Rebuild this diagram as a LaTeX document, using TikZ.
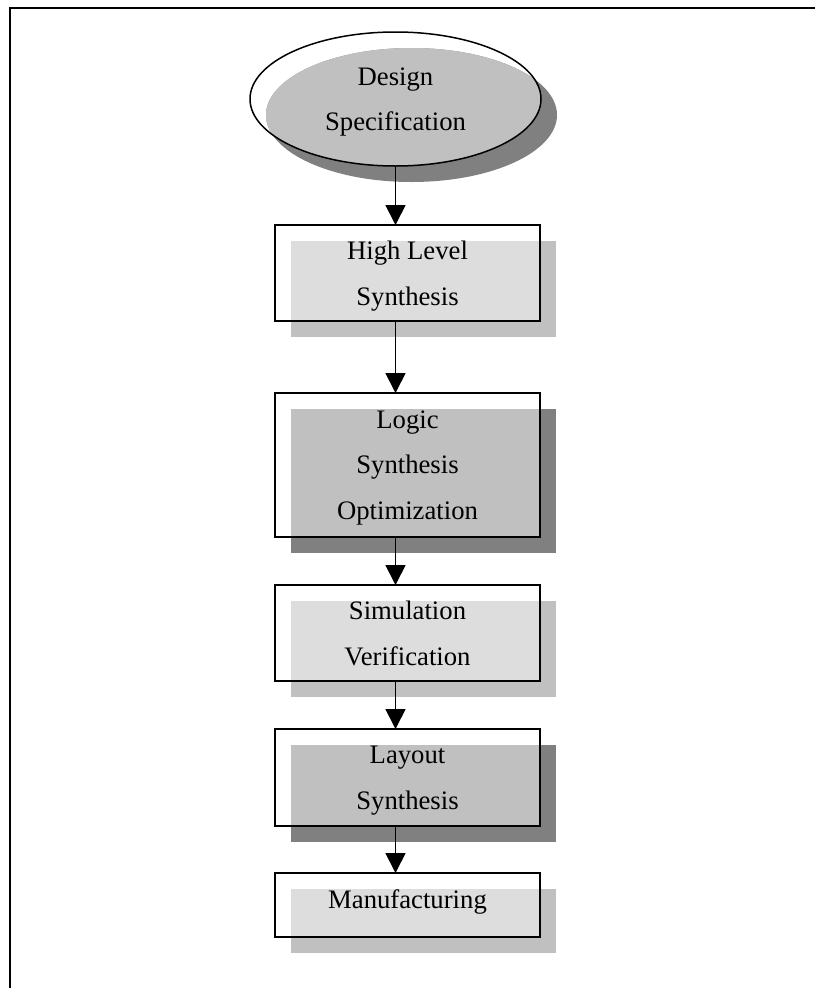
\documentclass[tikz,border=0pt]{standalone}
\usepackage{fontspec}
\setmainfont{Liberation Serif}
\usetikzlibrary{arrows.meta,shapes.geometric}

\definecolor{shadeDark}{HTML}{808080}
\definecolor{shadeMid}{HTML}{C0C0C0}
\definecolor{shadeLight}{HTML}{DDDDDD}

\pgfdeclarelayer{shade}
\pgfsetlayers{shade,main}

% drop shade of a rectangular node: #1 node, #2 colour outside, #3 colour inside
\newcommand\castrectshade[3]{%
  \begin{pgfonlayer}{shade}
    \fill[#2] ([shift={(16,16)}]#1.north west) rectangle ([shift={(16,16)}]#1.south east);
    \begin{scope}
      \clip (#1.north west) rectangle (#1.south east);
      \fill[#3] ([shift={(16,16)}]#1.north west) rectangle ([shift={(16,16)}]#1.south east);
    \end{scope}
  \end{pgfonlayer}}

\begin{document}
\begin{tikzpicture}[x=1pt,y=-1pt,
  label font/.style={font=\fontsize{26.7}{45.5}\selectfont},
  stage/.style={draw, line width=1.8pt, minimum width=265pt, minimum height=96pt,
    inner sep=0pt, outer sep=0pt, align=center, text depth=0pt, label font},
  spec/.style={ellipse, draw, line width=1.5pt, minimum width=291pt, minimum height=134pt,
    inner sep=0pt, outer sep=0pt, align=center, text depth=0pt, label font},
  flow/.style={line width=1.8pt, -{Triangle[width=20pt,length=20pt]}}]
\useasboundingbox (0,0) rectangle (815,988);

% page frame
\draw[line width=2pt] (10,988) -- (10,8) -- (815,8);

% stages
\node[spec]  (spec) at (395.5,99)  {Design\\Specification};
\node[stage] (hls)  at (407.5,273) {High Level\\Synthesis};
\node[stage, minimum height=144pt] (lso) at (407.5,465) {Logic\\Synthesis\\Optimization};
\node[stage] (sim)  at (407.5,633) {Simulation\\Verification};
\node[stage, minimum height=97pt] (lay) at (407.5,777.5) {Layout\\Synthesis};
\node[stage, minimum height=64pt, text depth=12pt] (man) at (407.5,905) {Manufacturing};

% shades
\begin{pgfonlayer}{shade}
  \fill[shadeDark] ([shift={(16,16)}]spec.center) ellipse [x radius=145.5pt, y radius=67pt];
  \begin{scope}
    \clip (spec.center) ellipse [x radius=145.5pt, y radius=67pt];
    \fill[shadeMid] ([shift={(16,16)}]spec.center) ellipse [x radius=145.5pt, y radius=67pt];
  \end{scope}
\end{pgfonlayer}
\castrectshade{hls}{shadeMid}{shadeLight}
\castrectshade{lso}{shadeDark}{shadeMid}
\castrectshade{sim}{shadeMid}{shadeLight}
\castrectshade{lay}{shadeDark}{shadeMid}
\castrectshade{man}{shadeMid}{shadeLight}

% flow arrows
\draw[flow] (spec.south) -- (hls.north -| spec.south);
\draw[flow] (hls.south -| spec.south) -- (lso.north -| spec.south);
\draw[flow] (lso.south -| spec.south) -- (sim.north -| spec.south);
\draw[flow] (sim.south -| spec.south) -- (lay.north -| spec.south);
\draw[flow] (lay.south -| spec.south) -- (man.north -| spec.south);
\end{tikzpicture}
\end{document}
